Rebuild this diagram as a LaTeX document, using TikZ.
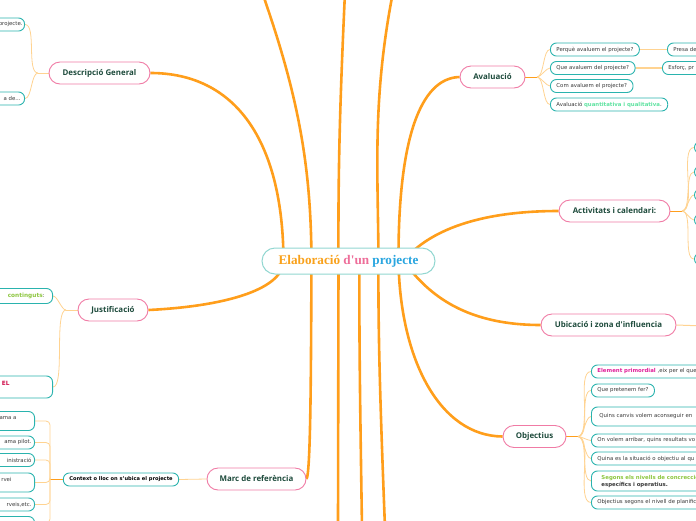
\documentclass[tikz,border=0pt]{standalone}
\usepackage{fontspec}
\setmainfont{DejaVu Sans}
\newfontfamily\topicfont{Open Sans}
\newfontfamily\rootfont{Liberation Serif}
\usepackage{tikz}
\usetikzlibrary{positioning, backgrounds}
\usepackage{xcolor}

\definecolor{trunkorange}{HTML}{FF9E1B}
\definecolor{twigorange}{HTML}{FFD391}
\definecolor{topicpink}{HTML}{F07BA5}
\definecolor{topicgreen}{HTML}{1E4B3C}
\definecolor{subteal}{HTML}{2AB3AE}
\definecolor{subgray}{HTML}{3A3A3A}
\definecolor{rootteal}{HTML}{92D7D1}
\definecolor{rootorange}{HTML}{F9A11B}
\definecolor{rootpink}{HTML}{EE6E9A}
\definecolor{rootblue}{HTML}{2AA6E0}
\definecolor{kwgreen}{HTML}{8DC63F}
\definecolor{kwmint}{HTML}{5FE3A1}
\definecolor{kwmagenta}{HTML}{E0209A}
\definecolor{kwcrimson}{HTML}{D0104C}

\begin{document}
\begin{tikzpicture}[
  x=1pt, y=-1pt,
  root/.style={draw=rootteal, line width=1pt, fill=white, rounded corners=13pt, minimum width=173pt, minimum height=26pt, font=\rootfont\bfseries\fontsize{13.2}{15}\selectfont},
  topic/.style={draw=topicpink, line width=0.9pt, fill=white, rounded corners=11pt, minimum height=22pt, inner xsep=8pt, text=topicgreen, font=\topicfont\bfseries\fontsize{7.9}{9}\selectfont},
  sub/.style={draw=subteal, line width=0.9pt, fill=white, rounded corners=6pt, minimum height=13pt, inner xsep=6pt, inner ysep=1.5pt, text=subgray, font=\fontsize{5.4}{6.8}\selectfont},
  trunk/.style={draw=trunkorange, line width=2.6pt},
  twig/.style={draw=twigorange, line width=0.8pt},
  fan/.style={twig, looseness=0.6}
]
\useasboundingbox (0,0) rectangle (696,520);
\clip (0,0) rectangle (696,520);

% centre and main topics
\node[root] (root) at (348.5,261) {\color{rootorange}Elaboració \color{rootpink}d'un \color{rootblue}projecte};
\node[topic, minimum width=101pt] (desc) at (99.5,73) {Descripció General};
\node[topic, minimum width=70pt] (just) at (113,310) {Justificació};
\node[topic, minimum width=99pt] (marc) at (256.5,479) {Marc de referència};
\node[topic, minimum width=65pt] (aval) at (492.5,77) {Avaluació};
\node[topic, minimum width=111pt] (activ) at (614.5,211) {Activitats i calendari:};
\node[topic, minimum width=135pt] (ubic) at (608.5,325) {Ubicació i zona d'influencia};
\node[topic, minimum width=63pt] (obj) at (534.5,436.5) {Objectius};

% Descripció General
\node[sub, anchor=east, text width=60pt, align=right, inner xsep=2pt] (d1) at (25,24.5) {projecte.};
\node[sub, anchor=east, text width=60pt, align=right, inner xsep=2pt] (d2) at (25,98.5) {a de...\kern2pt};

% Justificació
\node[sub, anchor=east, text width=80pt, align=right, minimum height=15pt] (j1) at (53,296) {{\color{kwgreen}\bfseries\fontsize{5.8}{7}\selectfont continguts}:\kern2pt};
\node[sub, anchor=east, text width=80pt, align=right, minimum height=22pt] (j2) at (53,387) {{\color{kwcrimson}\bfseries\fontsize{5.8}{7}\selectfont EL}\kern37pt\\\mbox{}};

% Marc de referència
\node[sub, font=\bfseries\fontsize{5.1}{6}\selectfont, text=black] (ctx) at (121,479.5) {Context o lloc on s'ubica el projecte};
\node[sub, anchor=east, text width=80pt, align=right, inner xsep=3pt, minimum height=19pt] (m1) at (35,421) {rama a\kern15pt\\\mbox{}};
\node[sub, anchor=east, text width=80pt, align=right, inner xsep=3pt] (m2) at (35,442.5) {ama pilot.};
\node[sub, anchor=east, text width=80pt, align=right, inner xsep=3pt] (m3) at (35,460) {inistració};
\node[sub, anchor=east, text width=80pt, align=right, inner xsep=3pt, minimum height=19pt] (m4) at (35,482.5) {rvei\kern20pt\\\mbox{}};
\node[sub, anchor=east, text width=80pt, align=right, inner xsep=3pt] (m5) at (35,504.5) {rveis,etc.};
\node[sub, anchor=east, text width=80pt, align=right, inner xsep=3pt] (m6) at (35,523) {\mbox{}};

% Avaluació
\node[sub, anchor=west] (a1) at (550,49.5) {Perquè avaluem el projecte?};
\node[sub, anchor=west] (a2) at (550,68) {Que avaluem del projecte?};
\node[sub, anchor=west] (a3) at (550,86) {Com avaluem el projecte?};
\node[sub, anchor=west] (a4) at (550,104.5) {Avaluació {\color{kwmint}\bfseries quantitativa i qualitativa}.};
\node[sub, anchor=west, text width=60pt, align=left] (a1x) at (667,49.5) {Presa de};
\node[sub, anchor=west, text width=60pt, align=left] (a2x) at (662,68) {Esforç, pr};

% Activitats i calendari
\foreach \i/\yy in {1/147.5, 2/172, 3/195, 4/220, 5/259}
  \node[sub, anchor=west, minimum width=40pt, minimum height=12pt] (t\i) at (694,\yy) {};

% Objectius
\node[sub, anchor=west, text width=160pt, align=left] (o1) at (591,371.5) {{\color{kwmagenta}\bfseries Element primordial} ,eix per el que};
\node[sub, anchor=west] (o2) at (591,390.5) {Que pretenem fer?};
\node[sub, anchor=west, text width=160pt, align=left, inner xsep=8pt, minimum height=19pt] (o3) at (591,416.5) {Quins canvis volem aconseguir en};
\node[sub, anchor=west, text width=160pt, align=left] (o4) at (591,440.5) {On volem arribar, quins resultats vo};
\node[sub, anchor=west, text width=160pt, align=left] (o5) at (591,458.5) {Quina es la situació o objectiu al qu};
\node[sub, anchor=west, text width=160pt, align=left, inner xsep=10pt, minimum height=20pt] (o6) at (591,481) {{\color{kwgreen}\bfseries Segons els nivells de concrecció}\\{\bfseries específics i operatius.}};
\node[sub, anchor=west, text width=160pt, align=left] (o7) at (591,502.5) {Objectius segons el nivell de planific};

% loose ends off the page
\coordinate (top1) at (262,-8);
\coordinate (top2) at (345,-8);
\coordinate (top3) at (393,-8);
\coordinate (bot1) at (338,528);
\coordinate (bot2) at (362,528);
\coordinate (bot3) at (385,528);
\coordinate (ubicout) at (704,326);
\coordinate (djoin) at (38,73);
\coordinate (jjoin) at (66,310);
\coordinate (cjoin) at (50,479.5);
\coordinate (ajoin) at (537,77);
\coordinate (tjoin) at (682,211);
\coordinate (ojoin) at (578,436.5);

\begin{scope}[on background layer]
\clip (0,0) rectangle (696,520);
% trunks
\draw[trunk] (desc.east) .. controls (235,73) and (283,140) .. ([xshift=-65pt]root.center);
\draw[trunk] (just.east) .. controls (230,306) and (283,288) .. ([xshift=-65pt]root.center);
\draw[trunk] (top1) .. controls (300,100) and (311,170) .. ([xshift=-37pt]root.center);
\draw[trunk] (top2) .. controls (340,100) and (338,170) .. ([xshift=-10pt]root.center);
\draw[trunk] (top3) .. controls (372,100) and (378,170) .. ([xshift=30pt]root.center);
\draw[trunk] (aval.west) .. controls (420,78) and (398,140) .. ([xshift=50pt]root.center);
\draw[trunk] (marc.east) .. controls (311,474) and (311,350) .. ([xshift=-37pt]root.center);
\draw[trunk] ([xshift=-10pt]root.center) -- (bot1);
\draw[trunk] (bot2) .. controls (360,400) and (359,330) .. ([xshift=11pt]root.center);
\draw[trunk] (bot3) .. controls (380,400) and (378,330) .. ([xshift=30pt]root.center);
\draw[trunk] (obj.west) .. controls (440,436) and (400,360) .. ([xshift=50pt]root.center);
\draw[trunk] (activ.west) .. controls (470,211) and (425,235) .. ([xshift=55pt]root.center);
\draw[trunk] (ubic.west) .. controls (460,325) and (425,290) .. ([xshift=55pt]root.center);

% twigs
\draw[twig] (desc.west) -- (djoin);
\foreach \c in {d1,d2} \draw[fan] (djoin) to[out=180,in=0] (\c.east);
\draw[twig] (just.west) -- (jjoin);
\draw[fan] (jjoin) to[out=180,in=0] (j1.east);
\draw[fan, looseness=0.4] (jjoin) to[out=180,in=0] (j2.east);
\draw[twig] (marc.west) -- (ctx.east);
\draw[trunkorange, line width=1pt] (ctx.west) -- (cjoin);
\foreach \c in {m1,m2,m3,m4,m5,m6} \draw[twig, rounded corners=4pt] (cjoin) |- (\c.east);
\draw[trunkorange, line width=1pt] (aval.east) -- (ajoin);
\foreach \c in {a1,a2,a3,a4} \draw[fan] (ajoin) to[out=0,in=180] (\c.west);
\draw[twig] (a1.east) -- (a1x.west);
\draw[twig, line width=2pt] (a2.east) -- (a2x.west);
\draw[trunkorange, line width=1pt] (activ.east) -- (tjoin);
\foreach \i in {1,...,5} \draw[fan] (tjoin) to[out=0,in=180] (t\i.west);
\draw[twig, line width=1pt] (ubic.east) -- (ubicout);
\draw[trunkorange, line width=1pt] (obj.east) -- (ojoin);
\foreach \i in {1,...,7} \draw[fan] (ojoin) to[out=0,in=180] (o\i.west);
\end{scope}
\end{tikzpicture}
\end{document}
